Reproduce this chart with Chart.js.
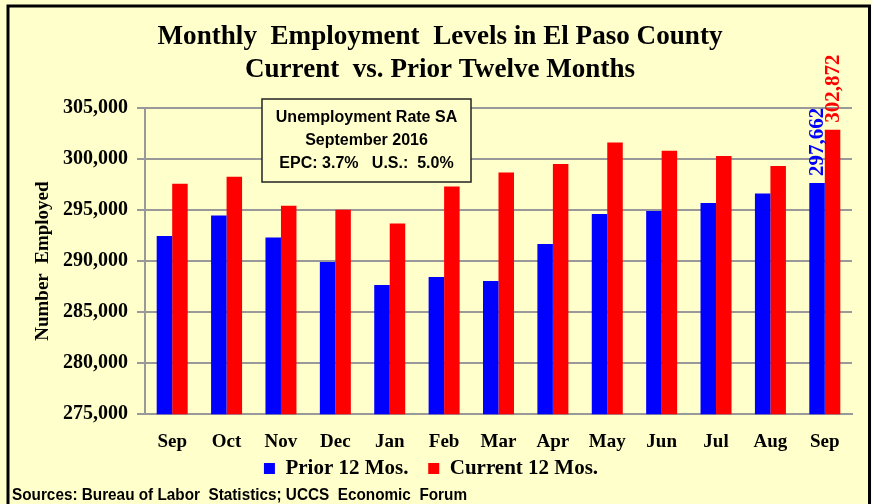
<!DOCTYPE html>
<html>
<head>
<meta charset="utf-8">
<script src="https://cdn.jsdelivr.net/npm/chart.js@4.4.1/dist/chart.umd.min.js"></script>
<style>
  body { margin: 0; background: #FFFFCC; }
  #wrap { width: 872px; height: 504px; }
</style>
</head>
<body>
<div id="wrap"><canvas id="emp" width="872" height="504"></canvas></div>
<script>
// months along the x-axis (Sep 2015 .. Sep 2016)
var months = ["Sep","Oct","Nov","Dec","Jan","Feb","Mar","Apr","May","Jun","Jul","Aug","Sep"];
// employment levels
var prior = [292450,294470,292310,289900,287650,288430,288040,291670,294610,294900,295690,296630,297662];
var current = [297580,298260,295420,295030,293690,297310,298690,299510,301630,300810,300290,299310,302872];
var seriesNames = ["Prior 12 Mos.", "Current 12 Mos."];
var titleLines = ["Monthly  Employment  Levels in El Paso County", "Current  vs. Prior Twelve Months"];
var boxLines = ["Unemployment Rate SA", "September 2016", "EPC: 3.7%   U.S.:  5.0%"];
var sourceText = "Sources: Bureau of Labor  Statistics; UCCS  Economic  Forum";

var serif = "'Liberation Serif', 'Times New Roman', serif";

// background + black frame
var framePlugin = {
  id: 'frame',
  beforeDraw: function(chart) {
    var c = chart.ctx;
    c.save();
    c.fillStyle = "#FFFFCC";
    c.fillRect(0, 0, chart.width, chart.height);
    c.strokeStyle = "#000";
    c.lineWidth = 3;
    c.beginPath();
    c.moveTo(8, chart.height);
    c.lineTo(8, 6);
    c.lineTo(869.5, 6);
    c.lineTo(869.5, chart.height);
    c.stroke();
    c.restore();
  }
};

// draw a line of text squeezed horizontally to a given width
function squeezeText(c, text, x, y, maxW, align) {
  var w = c.measureText(text).width;
  var s = Math.min(1, maxW / w);
  c.save();
  c.translate(x, y);
  c.scale(s, 1);
  c.textAlign = align;
  c.fillText(text, 0, 0);
  c.restore();
}

// narrow serif title and the sources note
var titlePlugin = {
  id: 'bigTitle',
  afterDraw: function(chart) {
    var c = chart.ctx;
    c.save();
    c.fillStyle = "#000";
    c.textBaseline = "alphabetic";
    c.font = "bold 28px " + serif;
    squeezeText(c, titleLines[0], 440, 44, 565, "center");
    squeezeText(c, titleLines[1], 440, 77, 390, "center");
    c.font = "bold 17px 'Liberation Sans', Arial, sans-serif";
    squeezeText(c, sourceText, 12, 500, 455, "left");
    c.restore();
  }
};

// unemployment rate box
var boxPlugin = {
  id: 'rateBox',
  afterDraw: function(chart) {
    var c = chart.ctx;
    c.save();
    c.fillStyle = "#FFFFCC";
    c.fillRect(262, 99, 209, 83);
    c.strokeStyle = "#222";
    c.lineWidth = 1.5;
    c.strokeRect(262, 99, 209, 83);
    c.fillStyle = "#000";
    c.font = "bold 16px 'Liberation Sans', Arial, sans-serif";
    c.textAlign = "center";
    c.textBaseline = "middle";
    var ys = [118, 141, 164];
    for (var i = 0; i < boxLines.length; i++) {
      squeezeText(c, boxLines[i], 366.5, ys[i], 184, "center");
    }
    c.restore();
  }
};

// rotated value labels over the last month
var lastLabelPlugin = {
  id: 'lastLabels',
  afterDatasetsDraw: function(chart) {
    var c = chart.ctx;
    var colors = ["#0000FF", "#FF0000"];
    c.save();
    c.font = "bold 21px " + serif;
    c.textAlign = "left";
    c.textBaseline = "middle";
    for (var d = 0; d < 2; d++) {
      var meta = chart.getDatasetMeta(d);
      var bar = meta.data[meta.data.length - 1];
      var v = chart.data.datasets[d].data[meta.data.length - 1];
      c.save();
      c.translate(bar.x + 1, bar.y - 7);
      c.rotate(-Math.PI / 2);
      c.fillStyle = colors[d];
      c.fillText(v.toLocaleString("en-US"), 0, 0);
      c.restore();
    }
    c.restore();
  }
};

var ctx = document.getElementById("emp");
var chart = new Chart(ctx, {
  type: 'bar',
  data: {
    labels: months,
    datasets: [
      { label: seriesNames[0], data: prior, backgroundColor: "#0000FF", categoryPercentage: 0.57, barPercentage: 1.0 },
      { label: seriesNames[1], data: current, backgroundColor: "#FF0000", categoryPercentage: 0.57, barPercentage: 1.0 }
    ]
  },
  options: {
    responsive: false,
    animation: false,
    layout: { padding: { left: 10, right: 20, top: 108, bottom: 15 } },
    plugins: {
      title: { display: false },
      tooltip: { enabled: false },
      legend: {
        position: 'bottom',
        labels: {
          boxWidth: 11,
          boxHeight: 11,
          padding: 4,
          color: "#000",
          font: { family: serif, size: 21, weight: 'bold' },
          generateLabels: function(chart) {
            var items = Chart.defaults.plugins.legend.labels.generateLabels(chart);
            // extra room between the two entries
            items[0].text = items[0].text + "   ";
            return items;
          }
        }
      }
    },
    scales: {
      x: {
        grid: { display: false, drawTicks: false },
        border: { color: "#999999", width: 2 },
        afterFit: function(scale) { scale.height = scale.height - 15; },
        ticks: { color: "#000", padding: 16, font: { family: serif, size: 19, weight: 'bold' } }
      },
      y: {
        min: 275000,
        max: 305000,
        afterFit: function(scale) { scale.width = 135; },
        ticks: {
          stepSize: 5000,
          padding: 9,
          color: "#000",
          font: { family: serif, size: 20, weight: 'bold' },
          callback: function(v) { return v.toLocaleString("en-US"); }
        },
        grid: { color: "#999999", lineWidth: 2, tickLength: 8 },
        border: { color: "#999999", width: 2 },
        title: {
          display: true,
          text: "Number  Employed",
          color: "#000",
          padding: { top: 22, bottom: 0 },
          font: { family: serif, size: 19, weight: 'bold' }
        }
      }
    }
  },
  plugins: [framePlugin, boxPlugin, lastLabelPlugin, titlePlugin]
});
</script>
</body>
</html>
